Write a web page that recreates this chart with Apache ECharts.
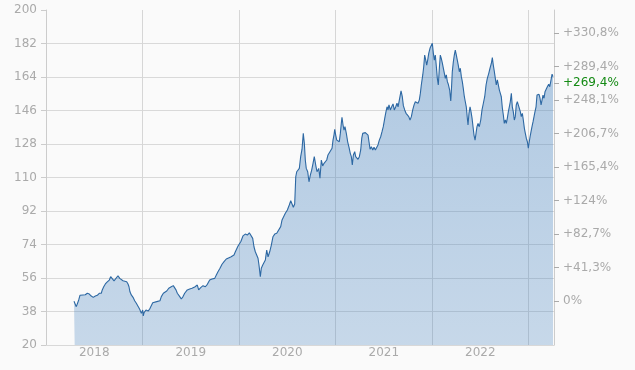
<!DOCTYPE html>
<html><head><meta charset="utf-8">
<script src="https://cdn.jsdelivr.net/npm/echarts@6/dist/echarts.min.js"></script>
<style>html,body{margin:0;padding:0;background:#fafafa}#c{width:635px;height:370px}</style>
</head><body><div id="c"></div>
<script>
// Dates as decimal years
const dates = [
2018.290,2018.297,2018.314,2018.324,2018.339,2018.352,2018.383,2018.407,2018.428,2018.449,
2018.469,2018.490,2018.511,2018.532,2018.552,2018.573,2018.583,2018.598,2018.615,2018.635,
2018.656,2018.670,2018.687,2018.705,2018.725,2018.746,2018.764,2018.780,2018.798,2018.816,
2018.836,2018.850,2018.860,2018.870,2018.884,2018.902,2018.919,2018.936,2018.953,2018.971,
2018.988,2019.002,2019.008,2019.016,2019.036,2019.060,2019.078,2019.106,2019.147,2019.181,
2019.195,2019.216,2019.251,2019.272,2019.298,2019.319,2019.334,2019.347,2019.361,2019.386,
2019.402,2019.420,2019.437,2019.464,2019.489,2019.513,2019.541,2019.568,2019.582,2019.603,
2019.627,2019.651,2019.672,2019.696,2019.720,2019.748,2019.765,2019.782,2019.803,2019.824,
2019.845,2019.868,2019.886,2019.914,2019.927,2019.948,2019.962,2019.976,2019.990,2020.018,
2020.041,2020.065,2020.086,2020.107,2020.127,2020.142,2020.155,2020.169,2020.183,2020.197,
2020.207,2020.221,2020.231,2020.246,2020.259,2020.273,2020.287,2020.301,2020.318,2020.335,
2020.352,2020.370,2020.391,2020.411,2020.432,2020.446,2020.466,2020.480,2020.501,2020.521,
2020.536,2020.549,2020.563,2020.577,2020.588,2020.598,2020.611,2020.625,2020.639,2020.653,
2020.666,2020.677,2020.687,2020.697,2020.712,2020.725,2020.739,2020.753,2020.767,2020.780,
2020.795,2020.808,2020.826,2020.839,2020.853,2020.867,2020.881,2020.894,2020.909,2020.922,
2020.936,2020.950,2020.964,2020.974,2020.984,2020.992,2021.002,2021.013,2021.026,2021.039,
2021.050,2021.060,2021.067,2021.078,2021.088,2021.098,2021.112,2021.126,2021.140,2021.153,
2021.164,2021.174,2021.185,2021.199,2021.209,2021.223,2021.233,2021.247,2021.261,2021.272,
2021.282,2021.295,2021.309,2021.323,2021.337,2021.347,2021.358,2021.371,2021.386,2021.399,
2021.413,2021.427,2021.440,2021.454,2021.468,2021.482,2021.495,2021.510,2021.523,2021.534,
2021.544,2021.554,2021.568,2021.582,2021.596,2021.609,2021.624,2021.637,2021.648,2021.665,
2021.679,2021.692,2021.703,2021.717,2021.731,2021.744,2021.759,2021.772,2021.786,2021.800,
2021.814,2021.827,2021.841,2021.855,2021.868,2021.879,2021.889,2021.904,2021.914,2021.924,
2021.935,2021.945,2021.955,2021.966,2021.979,2021.993,2022.003,2022.014,2022.024,2022.034,
2022.045,2022.055,2022.065,2022.076,2022.086,2022.096,2022.107,2022.117,2022.128,2022.138,
2022.148,2022.159,2022.169,2022.183,2022.194,2022.200,2022.210,2022.221,2022.231,2022.241,
2022.252,2022.262,2022.272,2022.283,2022.293,2022.304,2022.314,2022.324,2022.335,2022.345,
2022.355,2022.366,2022.373,2022.383,2022.394,2022.404,2022.415,2022.425,2022.435,2022.446,
2022.456,2022.466,2022.477,2022.490,2022.505,2022.518,2022.532,2022.546,2022.560,2022.573,
2022.588,2022.601,2022.615,2022.625,2022.635,2022.646,2022.656,2022.666,2022.677,2022.687,
2022.698,2022.708,2022.718,2022.729,2022.739,2022.749,2022.760,2022.770,2022.780,2022.791,
2022.801,2022.811,2022.822,2022.832,2022.842,2022.853,2022.863,2022.873,2022.884,2022.894,
2022.904,2022.915,2022.925,2022.936,2022.946,2022.957,2022.967,2022.977,2022.988,2022.998,
2023.005,2023.016,2023.026,2023.036,2023.047,2023.057,2023.067,2023.078,2023.088,2023.098,
2023.109,2023.119,2023.130,2023.140,2023.150,2023.161,2023.171,2023.185,2023.195,2023.209,
2023.220,2023.230,2023.244,2023.254
];
const prices = [
43.5,43.3,40.6,41.0,44.2,46.7,46.9,47.0,47.8,47.4,
46.3,45.6,46.3,46.7,47.8,47.8,49.6,51.3,52.8,53.9,
54.9,56.7,55.8,54.5,55.3,57.2,55.8,54.9,54.5,54.9,
54.0,52.8,51.3,48.6,46.9,45.6,43.8,42.4,41.5,39.2,
37.0,38.8,35.6,37.4,38.8,38.3,39.7,42.7,43.3,43.8,
46.0,47.8,49.0,50.5,51.3,51.9,52.6,49.6,47.8,46.0,
44.7,46.0,47.8,49.6,50.1,50.5,51.2,52.2,49.6,50.8,
51.9,51.3,52.6,54.9,55.5,55.8,57.6,59.4,61.2,63.4,
64.8,66.2,66.6,67.3,66.6,68.4,70.1,70.0,73.2,75.5,
78.6,79.6,79.1,80.3,79.6,77.3,72.8,70.1,68.4,66.6,
63.0,56.7,61.2,63.0,62.1,65.7,71.0,67.4,70.1,73.7,
78.2,79.6,80.0,80.9,83.6,87.2,89.3,90.8,92.5,95.2,
97.5,97.0,94.0,95.8,110.4,113.1,114.0,114.9,121.2,125.2,
133.7,128.4,119.4,114.9,113.1,107.7,111.3,114.0,117.6,121.2,
116.7,113.1,114.9,109.6,119.4,116.2,117.6,118.5,119.4,122.1,
123.3,123.0,125.7,130.1,132.8,135.9,132.8,130.1,130.5,129.2,
133.7,139.1,142.3,138.2,135.5,137.3,133.7,129.2,126.2,123.0,
121.2,116.7,122.1,123.9,121.2,122.1,119.8,121.2,124.8,131.1,
133.7,134.6,134.1,134.6,132.8,129.2,125.2,126.5,124.8,126.2,
124.8,125.7,127.5,130.1,131.9,134.6,137.3,141.8,145.4,148.0,
146.3,149.0,146.3,148.0,149.5,146.3,148.0,149.9,147.9,152.6,
156.5,153.4,148.6,146.3,144.5,143.6,142.7,140.9,142.7,146.3,
149.0,150.7,151.6,149.9,151.6,155.2,159.7,165.1,169.5,175.8,
173.1,170.4,173.1,176.7,179.4,178.5,182.1,176.7,173.1,175.8,
169.5,163.3,159.7,168.7,175.8,174.0,171.4,170.4,166.0,163.3,
165.1,161.5,160.1,157.0,151.1,156.1,166.8,172.2,175.8,178.5,
175.8,173.1,170.4,166.8,168.7,164.2,161.5,157.9,153.4,150.7,
148.0,141.8,138.2,144.5,148.0,145.4,141.8,137.3,132.8,130.1,
133.7,137.3,139.1,137.3,140.9,146.3,149.9,153.4,159.7,163.3,
166.0,168.7,171.4,174.4,170.4,166.8,163.3,159.7,162.4,161.5,
157.0,155.2,153.4,147.2,143.6,139.1,140.9,139.1,141.8,145.4,
148.0,150.7,155.2,148.0,145.4,140.9,142.7,149.0,150.7,149.0,
148.0,145.4,142.7,144.5,140.9,136.4,133.7,131.1,129.2,125.7,
128.4,131.9,134.6,137.3,140.0,142.7,145.4,148.0,154.3,153.4,
154.7,152.6,149.0,151.6,154.3,152.6,156.1,157.0,158.8,160.1,
158.8,161.5,165.5,164.2
];
const yearLabels = [2018, 2019, 2020, 2021, 2022];
const priceMin = 20, priceMax = 200, priceStep = 18;
const basePrice = 43.53;
const pctTickValues = [0, 41.35, 82.7, 124.05, 165.4, 206.75, 248.1, 289.45, 330.8];
const pctTickLabels = ['0%', '+41,3%', '+82,7%', '+124%', '+165,4%', '+206,7%', '+248,1%', '+289,4%', '+330,8%'];
const currentPct = 269.4;
const currentPctLabel = '+269,4%';

const FONT = 'DejaVu Sans';
const labelColor = '#aaaaaa';
const chart = echarts.init(document.getElementById('c'), null, {renderer: 'canvas'});
const pctMin = (priceMin / basePrice - 1) * 100;
const pctMax = (priceMax / basePrice - 1) * 100;
const rightValues = pctTickValues.concat([currentPct]);

chart.setOption({
  animation: false,
  backgroundColor: '#fafafa',
  grid: {left: 46, right: 81, top: 10, bottom: 25, containLabel: false},
  xAxis: {
    type: 'value', min: 2018, max: 2023.264, interval: 1,
    axisLine: {show: true, onZero: false, lineStyle: {color: '#d8d8d8'}},
    axisTick: {show: false},
    splitLine: {show: true, lineStyle: {color: '#d6d6d6', width: 1}},
    axisLabel: {
      customValues: yearLabels.map(y => y + 0.5),
      formatter: v => String(Math.floor(v)),
      color: labelColor, fontFamily: FONT, fontSize: 12, margin: 2
    }
  },
  yAxis: [{
    type: 'value', position: 'left', min: priceMin, max: priceMax, interval: priceStep,
    axisLine: {show: true, lineStyle: {color: '#cccccc'}},
    axisTick: {show: true, length: 5, lineStyle: {color: '#cccccc'}},
    axisLabel: {color: labelColor, fontFamily: FONT, fontSize: 12, margin: 9},
    splitLine: {show: true, showMaxLine: false, lineStyle: {color: '#d9d9d9', width: 1}}
  }, {
    type: 'value', position: 'right', min: pctMin, max: pctMax,
    axisLine: {show: true, lineStyle: {color: '#cccccc'}},
    axisTick: {show: true, length: 5, customValues: rightValues, lineStyle: {color: '#aaaaaa'}},
    splitLine: {show: false},
    axisLabel: {
      customValues: rightValues,
      color: labelColor, fontFamily: FONT, fontSize: 12, margin: 9,
      formatter: v => {
        if (Math.abs(v - currentPct) < 0.01) return '{g|' + currentPctLabel + '}';
        let best = 0;
        pctTickValues.forEach((p, i) => { if (Math.abs(p - v) < Math.abs(pctTickValues[best] - v)) best = i; });
        return pctTickLabels[best];
      },
      rich: {g: {color: '#148a14', fontFamily: FONT, fontSize: 12}}
    }
  }],
  series: [{
    type: 'line',
    yAxisIndex: 0,
    data: dates.map((d, i) => [d, prices[i]]),
    showSymbol: false,
    lineStyle: {width: 1.1, color: '#2d68a3'},
    areaStyle: {
      color: new echarts.graphic.LinearGradient(0, 0, 0, 1, [
        {offset: 0, color: 'rgba(66,128,190,0.58)'},
        {offset: 1, color: 'rgba(66,128,190,0.40)'}
      ])
    }
  }]
});
</script>
</body></html>
